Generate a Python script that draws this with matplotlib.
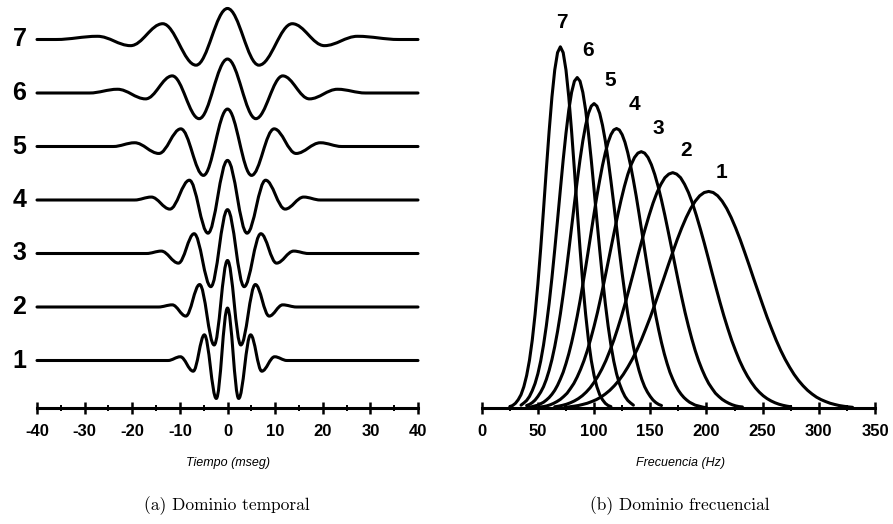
import numpy as np
import matplotlib
matplotlib.use("Agg")
import matplotlib.pyplot as plt
from matplotlib.path import Path
from matplotlib.patches import PathPatch

# ---------------- data: time-domain wavelets (extrema) -------------
w1_t = [-40, -12.5, -9.9, -7.2, -4.85, -2.35, 0, 2.35, 4.85, 7.2, 9.9, 12.5, 40]
w1_a = [0, 0, 0.07, -0.20, 0.48, -0.71, 0.98, -0.71, 0.48, -0.20, 0.07, 0, 0]
w2_t = [-40, -14.5, -11.6, -8.75, -5.85, -2.8, 0, 2.8, 5.85, 8.75, 11.6, 14.5, 40]
w2_a = [0, 0, 0.04, -0.17, 0.42, -0.71, 0.87, -0.71, 0.42, -0.17, 0.04, 0, 0]
w3_t = [-40, -17, -13.9, -10.3, -7.0, -3.5, 0, 3.5, 7.0, 10.3, 13.9, 17, 40]
w3_a = [0, 0, 0.045, -0.18, 0.37, -0.62, 0.82, -0.62, 0.37, -0.18, 0.045, 0, 0]
w4_t = [-40, -19.5, -16.0, -12.1, -8.0, -4.1, 0, 4.1, 8.0, 12.1, 16.0, 19.5, 40]
w4_a = [0, 0, 0.055, -0.17, 0.37, -0.62, 0.74, -0.62, 0.37, -0.17, 0.055, 0, 0]
w5_t = [-40, -24, -19.5, -14.4, -9.8, -5.05, 0, 5.05, 9.8, 14.4, 19.5, 24, 40]
w5_a = [0, 0, 0.07, -0.13, 0.33, -0.54, 0.70, -0.54, 0.33, -0.13, 0.07, 0, 0]
w6_t = [-40, -29, -23.1, -17.2, -11.6, -5.95, 0, 5.95, 11.6, 17.2, 23.1, 29, 40]
w6_a = [0, 0, 0.07, -0.11, 0.32, -0.48, 0.635, -0.48, 0.32, -0.11, 0.07, 0, 0]
w7_t = [-40, -36, -27.3, -20.35, -13.6, -6.6, 0, 6.6, 13.6, 20.35, 27.3, 36, 40]
w7_a = [0, 0, 0.06, -0.115, 0.295, -0.48, 0.58, -0.48, 0.295, -0.115, 0.06, 0, 0]
trace_labels = ["1", "2", "3", "4", "5", "6", "7"]

time_ticks = [-40, -30, -20, -10, 0, 10, 20, 30, 40]
time_ticklabels = ["-40", "-30", "-20", "-10", "0", "10", "20", "30", "40"]
time_minor = [-35, -25, -15, -5, 5, 15, 25, 35]

# ---------------- data: amplitude spectra ------------------------------------------
s7_f = np.arange(25, 115.1, 2.5)
s7_a = [0.005, 0.008, 0.014, 0.024, 0.038, 0.060, 0.091, 0.133, 0.189, 0.260, 0.344,
        0.442, 0.549, 0.660, 0.766, 0.861, 0.936, 0.984, 1.000, 0.984, 0.936, 0.861,
        0.766, 0.660, 0.549, 0.442, 0.344, 0.260, 0.189, 0.133, 0.091, 0.060, 0.038,
        0.024, 0.014, 0.008, 0.005]
s6_f = np.arange(35, 135.1, 2.5)
s6_a = [0.009, 0.015, 0.022, 0.033, 0.049, 0.069, 0.096, 0.131, 0.175, 0.228, 0.290,
        0.361, 0.439, 0.521, 0.605, 0.687, 0.761, 0.825, 0.874, 0.905, 0.915, 0.905,
        0.874, 0.825, 0.761, 0.687, 0.605, 0.521, 0.439, 0.361, 0.290, 0.228, 0.175,
        0.131, 0.096, 0.069, 0.049, 0.033, 0.022, 0.015, 0.009]
s5_f = np.arange(40, 160.1, 2.5)
s5_a = [0.008, 0.011, 0.016, 0.023, 0.033, 0.045, 0.060, 0.080, 0.105, 0.135, 0.171,
        0.213, 0.261, 0.315, 0.373, 0.436, 0.501, 0.566, 0.629, 0.688, 0.740, 0.783,
        0.816, 0.836, 0.843, 0.836, 0.816, 0.783, 0.740, 0.688, 0.629, 0.566, 0.501,
        0.436, 0.373, 0.315, 0.261, 0.213, 0.171, 0.135, 0.105, 0.080, 0.060, 0.045,
        0.033, 0.023, 0.016, 0.011, 0.008]
s4_f = np.arange(40, 200.1, 2.5)
s4_a = [0.002, 0.003, 0.005, 0.007, 0.009, 0.013, 0.017, 0.023, 0.030, 0.039, 0.050,
        0.064, 0.081, 0.100, 0.124, 0.151, 0.182, 0.217, 0.255, 0.297, 0.343, 0.390,
        0.439, 0.489, 0.539, 0.587, 0.631, 0.672, 0.707, 0.736, 0.757, 0.770, 0.774,
        0.770, 0.757, 0.736, 0.707, 0.672, 0.631, 0.587, 0.539, 0.489, 0.439, 0.390,
        0.343, 0.297, 0.255, 0.217, 0.182, 0.151, 0.124, 0.100, 0.081, 0.064, 0.050,
        0.039, 0.030, 0.023, 0.017, 0.013, 0.009, 0.007, 0.005, 0.003, 0.002]
s3_f = np.arange(52, 232.1, 3)
s3_a = [0.004, 0.005, 0.007, 0.010, 0.014, 0.019, 0.025, 0.033, 0.042, 0.055, 0.069,
        0.087, 0.108, 0.132, 0.160, 0.192, 0.227, 0.265, 0.307, 0.351, 0.397, 0.443,
        0.489, 0.534, 0.576, 0.614, 0.647, 0.674, 0.694, 0.706, 0.710, 0.706, 0.694,
        0.674, 0.647, 0.614, 0.576, 0.534, 0.489, 0.443, 0.397, 0.351, 0.307, 0.265,
        0.227, 0.192, 0.160, 0.132, 0.108, 0.087, 0.069, 0.055, 0.042, 0.033, 0.025,
        0.019, 0.014, 0.010, 0.007, 0.005, 0.004]
s2_f = np.arange(65, 275.1, 3.5)
s2_a = [0.0045, 0.0063, 0.0086, 0.0116, 0.0156, 0.0207, 0.027, 0.035, 0.045, 0.057,
        0.072, 0.089, 0.109, 0.132, 0.159, 0.188, 0.221, 0.256, 0.294, 0.334, 0.375,
        0.417, 0.458, 0.497, 0.534, 0.568, 0.597, 0.620, 0.638, 0.648, 0.652, 0.648,
        0.638, 0.620, 0.597, 0.568, 0.534, 0.497, 0.458, 0.417, 0.375, 0.334, 0.294,
        0.256, 0.221, 0.188, 0.159, 0.132, 0.109, 0.089, 0.072, 0.057, 0.045, 0.035,
        0.027, 0.0207, 0.0156, 0.0116, 0.0086, 0.0063, 0.0045]
s1_f = np.arange(74, 330.1, 4)
s1_a = [0.003, 0.0043, 0.006, 0.008, 0.011, 0.0143, 0.019, 0.0243, 0.031, 0.0398,
        0.050, 0.0625, 0.077, 0.094, 0.114, 0.136, 0.161, 0.189, 0.220, 0.252, 0.287,
        0.323, 0.359, 0.396, 0.432, 0.467, 0.499, 0.528, 0.553, 0.573, 0.588, 0.597,
        0.600, 0.597, 0.588, 0.573, 0.553, 0.528, 0.499, 0.467, 0.432, 0.396, 0.359,
        0.323, 0.287, 0.252, 0.220, 0.189, 0.161, 0.136, 0.114, 0.094, 0.077, 0.0625,
        0.050, 0.0398, 0.031, 0.0243, 0.019, 0.0143, 0.011, 0.008, 0.006, 0.0043, 0.003]

freq_ticks = [0, 50, 100, 150, 200, 250, 300, 350]
freq_ticklabels = ["0", "50", "100", "150", "200", "250", "300", "350"]
freq_minor = [25, 75, 125, 175, 225, 275, 325]

# ---------------- figure ---------------------------------------------------------
W, H = 893, 524
fig = plt.figure(figsize=(W / 100, H / 100), dpi=100)
fig.patch.set_facecolor("white")

SANS = ["Liberation Sans", "DejaVu Sans"]
LW = 2.2

axis_y_px = 408.4
bottom = (H - axis_y_px) / H
height = axis_y_px / H

ax1 = fig.add_axes([37 / W, bottom, (418 - 37) / W, height])
ax2 = fig.add_axes([481.7 / W, bottom, (875 - 481.7) / W, height])

for ax in (ax1, ax2):
    ax.set_facecolor("none")
    for s in ("left", "right", "top"):
        ax.spines[s].set_visible(False)
    ax.spines["bottom"].set_linewidth(LW)
    ax.set_yticks([])
    ax.tick_params(axis="x", which="major", direction="inout", length=8.5, width=1.8,
                   pad=7, labelsize=12)
    ax.tick_params(axis="x", which="minor", direction="inout", length=4, width=1.4)

# ---- left: wavelets drawn as smooth Bezier paths through the read extrema ----
spacing_px = 53.5
ax1.set_xlim(-40, 40)
ylo = 1 - (axis_y_px - 360.5) / spacing_px
ax1.set_ylim(ylo, ylo + axis_y_px / spacing_px)

wavelets = [(w1_t, w1_a), (w2_t, w2_a), (w3_t, w3_a), (w4_t, w4_a),
            (w5_t, w5_a), (w6_t, w6_a), (w7_t, w7_a)]
k = 0.3642
for i, (tt, aa) in enumerate(wavelets):
    off = i + 1
    verts = [(tt[0], aa[0] + off)]
    codes = [Path.MOVETO]
    for j in range(len(tt) - 1):
        t0, a0, t1, a1 = tt[j], aa[j] + off, tt[j + 1], aa[j + 1] + off
        d = t1 - t0
        verts += [(t0 + k * d, a0), (t1 - k * d, a1), (t1, a1)]
        codes += [Path.CURVE4] * 3
    patch = PathPatch(Path(verts, codes), facecolor="none", edgecolor="black",
                      lw=LW, capstyle="round", joinstyle="round", clip_on=False)
    ax1.add_patch(patch)
    ax1.text(-43.7, off, trace_labels[i], ha="center", va="center", fontsize=18,
             fontweight="bold", family=SANS, clip_on=False)

ax1.set_xticks(time_ticks)
ax1.set_xticklabels(time_ticklabels, fontweight="bold", family=SANS)
ax1.set_xticks(time_minor, minor=True)

# ---- right: spectra ----
amp_px = 361.6
ax2.set_xlim(0, 350)
ax2.set_ylim(0, axis_y_px / amp_px)
spectra = [(s1_f, s1_a), (s2_f, s2_a), (s3_f, s3_a), (s4_f, s4_a),
           (s5_f, s5_a), (s6_f, s6_a), (s7_f, s7_a)]
for f, a in spectra:
    ax2.plot(f, a, color="black", lw=LW, solid_capstyle="round",
             solid_joinstyle="round", clip_on=False)

label_pos = [(213, 0.651), (181.8, 0.714), (156.9, 0.774), (135.5, 0.840),
             (114.1, 0.908), (94.6, 0.991), (71.4, 1.068)]
for i, (x, y) in enumerate(label_pos):
    ax2.text(x, y, trace_labels[i], ha="center", va="center", fontsize=15,
             fontweight="bold", family=SANS, clip_on=False)

ax2.set_xticks(freq_ticks)
ax2.set_xticklabels(freq_ticklabels, fontweight="bold", family=SANS)
ax2.set_xticks(freq_minor, minor=True)

# ---- axis titles and captions ----
fig.text(228 / W, 1 - 463 / H, "Tiempo (mseg)", ha="center", va="center",
         fontsize=9, style="italic", family=SANS)
fig.text(680 / W, 1 - 463 / H, "Frecuencia (Hz)", ha="center", va="center",
         fontsize=9, style="italic", family=SANS)
fig.text(227 / W, 1 - 506 / H, "(a) Dominio temporal", ha="center", va="center",
         fontsize=12.5, family=["cmr10", "DejaVu Serif"])
fig.text(680 / W, 1 - 506 / H, "(b) Dominio frecuencial", ha="center", va="center",
         fontsize=12.5, family=["cmr10", "DejaVu Serif"])

fig.savefig("out.png", dpi=100, facecolor="white")
